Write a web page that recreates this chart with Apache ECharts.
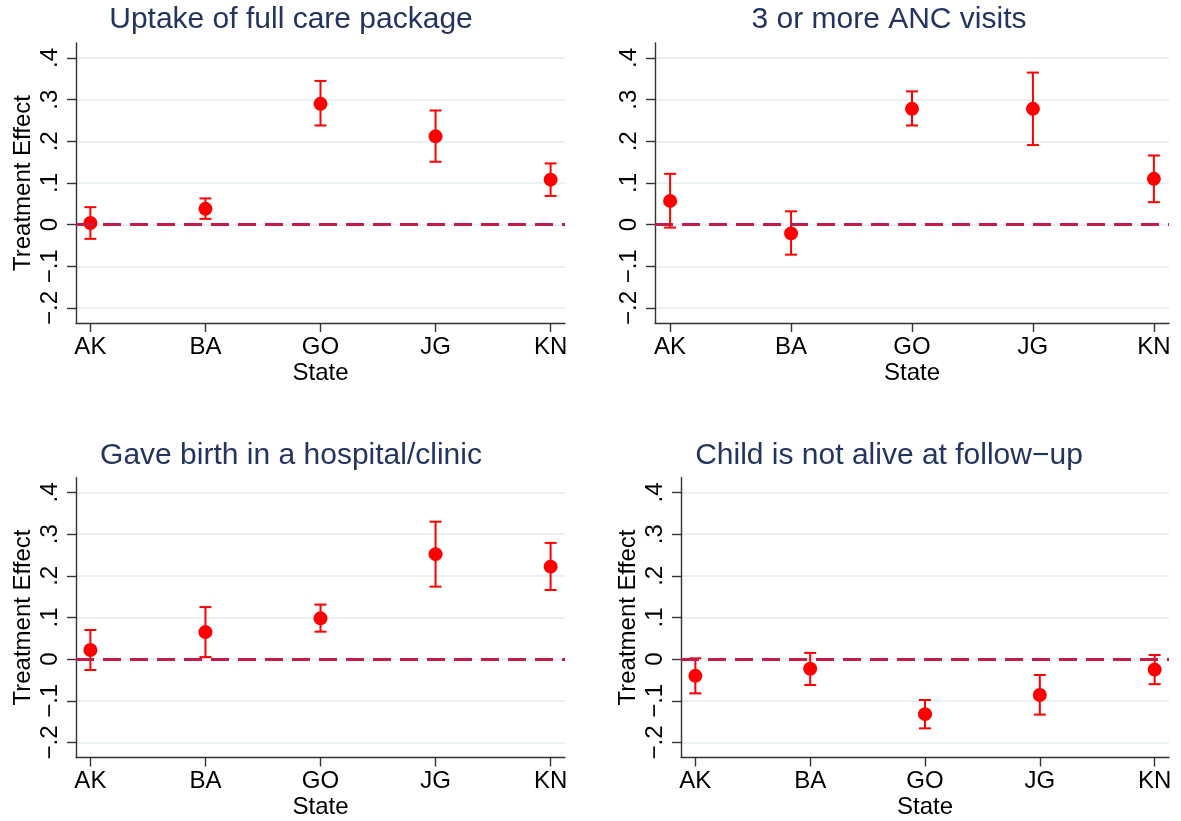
<!DOCTYPE html>
<html>
<head>
<meta charset="utf-8">
<script src="https://cdn.jsdelivr.net/npm/echarts@6/dist/echarts.min.js"></script>
<style>
html,body{margin:0;padding:0;background:#fff;}
#c{width:1181px;height:821px;}
</style>
</head>
<body>
<div id="c"></div>
<script>
// ---- data ----
const states = ['AK', 'BA', 'GO', 'JG', 'KN'];
const statePos = [1, 2, 3, 4, 5];
const yTickValues = [-0.2, -0.1, 0, 0.1, 0.2, 0.3, 0.4];
const panelTitles = ['Uptake of full care package', '3 or more ANC visits', 'Gave birth in a hospital/clinic', 'Child is not alive at follow\u2212up'];
const xAxisTitle = 'State';
const yAxisTitle = 'Treatment Effect';

const uptakeEst = [0.004, 0.038, 0.290, 0.212, 0.108];
const uptakeLo  = [-0.034, 0.014, 0.238, 0.151, 0.069];
const uptakeHi  = [0.042, 0.063, 0.345, 0.274, 0.147];

const ancEst = [0.057, -0.021, 0.278, 0.278, 0.110];
const ancLo  = [-0.007, -0.072, 0.238, 0.191, 0.054];
const ancHi  = [0.122, 0.032, 0.320, 0.365, 0.166];

const birthEst = [0.022, 0.065, 0.098, 0.252, 0.222];
const birthLo  = [-0.026, 0.005, 0.066, 0.174, 0.166];
const birthHi  = [0.070, 0.125, 0.131, 0.330, 0.279];

const childEst = [-0.040, -0.023, -0.132, -0.086, -0.025];
const childLo  = [-0.082, -0.062, -0.166, -0.133, -0.060];
const childHi  = [0.002, 0.015, -0.098, -0.038, 0.010];

// ---- layout / style ----
const FONT = 'Liberation Sans, Arial, sans-serif';
const panels = [
  {est: uptakeEst, lo: uptakeLo, hi: uptakeHi, yName: true,  box: {left: 76,  top: 43,    width: 489, height: 280}, tx: 291, ty: 5},
  {est: ancEst,    lo: ancLo,    hi: ancHi,    yName: false, box: {left: 655, top: 43,    width: 514, height: 280}, tx: 889, ty: 5},
  {est: birthEst,  lo: birthLo,  hi: birthHi,  yName: true,  box: {left: 76,  top: 477.5, width: 489, height: 280}, tx: 291, ty: 441},
  {est: childEst,  lo: childLo,  hi: childHi,  yName: true,  box: {left: 681, top: 477.5, width: 488, height: 280}, tx: 889, ty: 441}
];

function fmtY(v) {
  const r = Math.round(v * 10);
  if (r === 0) return '0';
  return (r < 0 ? '\u2212' : '') + '.' + Math.abs(r);
}

const axisLineStyle = {color: '#333333', width: 1.4};
const option = {
  backgroundColor: '#ffffff',
  animation: false,
  title: [], grid: [], xAxis: [], yAxis: [], series: []
};

panels.forEach((p, i) => {
  option.title.push({
    text: panelTitles[i], left: p.tx, top: p.ty, textAlign: 'center', padding: 0,
    textStyle: {fontFamily: FONT, fontSize: 30, fontWeight: 'normal', color: '#22345f'}
  });
  option.grid.push(Object.assign({containLabel: false, outerBoundsMode: 'none'}, p.box));
  option.xAxis.push({
    type: 'value', gridIndex: i, min: 0.875, max: 5.125,
    axisLine: {show: true, onZero: false, lineStyle: axisLineStyle},
    axisTick: {show: true, customValues: statePos, length: 9, lineStyle: axisLineStyle},
    axisLabel: {customValues: statePos, formatter: v => states[Math.round(v) - 1], fontFamily: FONT, fontSize: 24, color: '#000', margin: 12},
    splitLine: {show: false},
    name: xAxisTitle, nameLocation: 'middle', nameGap: 38,
    nameTextStyle: {fontFamily: FONT, fontSize: 24, color: '#000'}
  });
  option.yAxis.push({
    type: 'value', gridIndex: i, min: -0.236, max: 0.436,
    axisLine: {show: true, onZero: false, lineStyle: axisLineStyle},
    axisTick: {show: true, customValues: yTickValues, length: 9, lineStyle: axisLineStyle},
    axisLabel: {customValues: yTickValues, formatter: fmtY, rotate: 90, fontFamily: FONT, fontSize: 24, color: '#000', margin: 14},
    splitLine: {show: true, lineStyle: {color: '#e3edf0', width: 1.6}},
    name: p.yName ? yAxisTitle : '', nameLocation: 'middle', nameGap: 41,
    nameTextStyle: {fontFamily: FONT, fontSize: 24, color: '#000'}
  });
  option.series.push({
    type: 'line', xAxisIndex: i, yAxisIndex: i, data: [], z: 2, silent: true,
    markLine: {
      silent: true, symbol: ['none', 'none'], label: {show: false},
      lineStyle: {color: '#c41e48', width: 2.8, type: [18, 9], opacity: 1},
      data: [{yAxis: 0}]
    }
  });
  option.series.push({
    type: 'custom', xAxisIndex: i, yAxisIndex: i, z: 3,
    data: statePos.map((x, k) => [x, p.lo[k], p.hi[k]]),
    encode: {x: 0, y: [1, 2]},
    renderItem: function (params, api) {
      const x = api.value(0);
      const a = api.coord([x, api.value(1)]);
      const b = api.coord([x, api.value(2)]);
      const w = 6;
      const st = {stroke: '#ff0000', lineWidth: 2};
      return {type: 'group', children: [
        {type: 'line', shape: {x1: a[0], y1: a[1], x2: b[0], y2: b[1]}, style: st},
        {type: 'line', shape: {x1: a[0] - w, y1: a[1], x2: a[0] + w, y2: a[1]}, style: st},
        {type: 'line', shape: {x1: b[0] - w, y1: b[1], x2: b[0] + w, y2: b[1]}, style: st}
      ]};
    }
  });
  option.series.push({
    type: 'scatter', xAxisIndex: i, yAxisIndex: i, z: 4,
    symbol: 'circle', symbolSize: 14,
    itemStyle: {color: '#ff0000', opacity: 1},
    data: statePos.map((x, k) => [x, p.est[k]])
  });
});

const chart = echarts.init(document.getElementById('c'), null, {renderer: 'canvas'});
chart.setOption(option);
</script>
</body>
</html>
